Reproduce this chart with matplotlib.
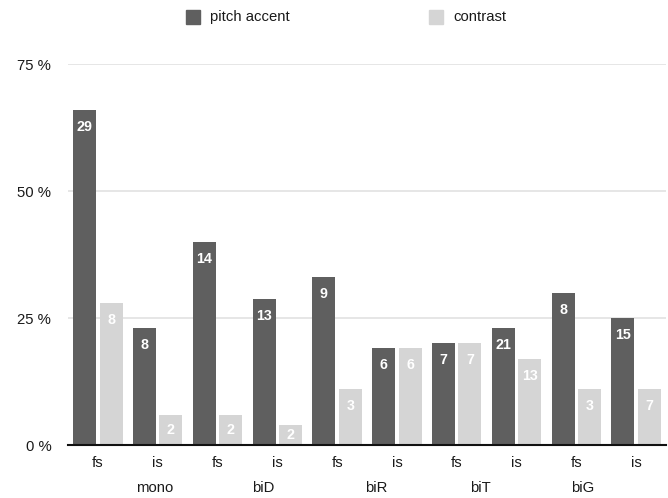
import numpy as np
import matplotlib.pyplot as plt
from matplotlib.patches import Rectangle

plt.rcParams['font.family'] = ['Liberation Sans', 'DejaVu Sans']

groups = ["mono", "biD", "biR", "biT", "biG"]
subcats = ["fs", "is"] * 5
pitch_pct = [66, 23, 40, 28.7, 33, 19, 20, 23, 30, 25]
contrast_pct = [28, 6, 6, 4, 11, 19, 20, 17, 11, 11]
pitch_n = [29, 8, 14, 13, 9, 6, 7, 21, 8, 15]
contrast_n = [8, 2, 2, 2, 3, 6, 7, 13, 3, 7]
yticks = [0, 25, 50, 75]

dark = "#5f5f5f"
light = "#d5d5d5"
txt = "#1a1a1a"
fs_ = 10.7

fig = plt.figure(figsize=(6.68, 4.98), dpi=100)
ax = fig.add_axes([68 / 668, 53 / 498, 598 / 668, 381 / 498])

x = np.arange(len(subcats))
w = 0.385
off = 0.222
ax.bar(x - off, pitch_pct, w, color=dark, zorder=3)
ax.bar(x + off, contrast_pct, w, color=light, zorder=3)

# count labels inside bars
px_per_unit = 381 / 75
for xs, vals, ns in [(x - off, pitch_pct, pitch_n), (x + off, contrast_pct, contrast_n)]:
    for xi, v, n in zip(xs, vals, ns):
        d = min(17, v * px_per_unit / 2) / px_per_unit
        ax.text(xi, v - d, str(n), ha="center", va="center", color="white",
                fontsize=10.3, fontweight="bold", zorder=4)

ax.set_xlim(-0.5, len(subcats) - 0.5)
ax.set_ylim(0, 75)
ax.set_yticks(yticks)
ax.set_yticklabels([f"{t} %" for t in yticks], fontsize=fs_, color=txt)
ax.tick_params(axis="y", length=0, pad=12)
ax.set_xticks([])
for t in yticks[1:]:
    ax.axhline(t, color="#e2e2e2", lw=1.2, zorder=1)
for s in ["top", "right", "left"]:
    ax.spines[s].set_visible(False)
ax.spines["bottom"].set_color("#111111")
ax.spines["bottom"].set_linewidth(1.5)
ax.spines["bottom"].set_zorder(5)

# category labels
trans = ax.get_xaxis_transform()
for xi, s in zip(x, subcats):
    ax.text(xi, -18 / 381, s, transform=trans, ha="center", va="center",
            fontsize=fs_, color=txt)
group_pos = [0.95, 2.76, 4.65, 6.40, 8.10]
for gx, g in zip(group_pos, groups):
    ax.text(gx, -43 / 381, g, transform=trans, ha="center", va="center",
            fontsize=fs_, color=txt)

# legend
for sx, col, lab in [(186, dark, "pitch accent"), (429, light, "contrast")]:
    fig.patches.append(Rectangle((sx / 668, (498 - 24) / 498), 14 / 668, 14 / 498,
                                 transform=fig.transFigure, color=col))
    fig.text((sx + 24) / 668, (498 - 17) / 498, lab, ha="left", va="center",
             fontsize=fs_, color=txt)

fig.savefig("out.png", dpi=100)
